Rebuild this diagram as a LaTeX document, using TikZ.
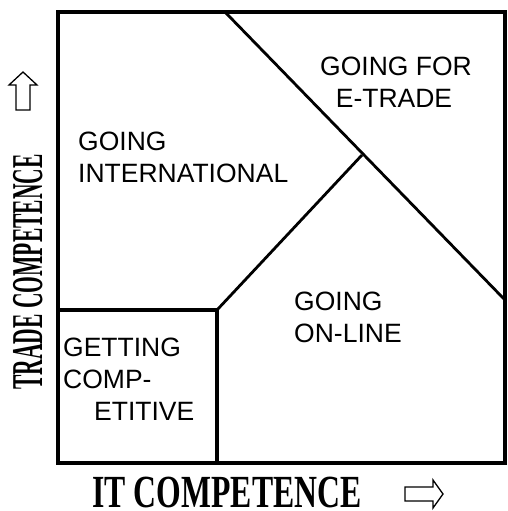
\documentclass[tikz,border=0pt]{standalone}
\usepackage{fontspec}
\setmainfont{Liberation Sans}
\newfontfamily\axisfont{Liberation Serif}
\usetikzlibrary{calc}
\begin{document}
\begin{tikzpicture}[x=1pt,y=-1pt,
  frame/.style={line width=3.6pt,line join=miter},
  divider/.style={line width=2.8pt},
  label/.style={inner sep=0pt,anchor=base west,font=\fontsize{26.5}{32}\selectfont},
  clabel/.style={label,anchor=base},
  hollow/.style={line width=1.3pt,line join=miter,fill=white}]
\useasboundingbox (0,0) rectangle (507,511);

% outer frame and corner points
\coordinate (tl) at (58,12);
\coordinate (tr) at (505,12);
\coordinate (br) at (505,463);
\coordinate (bl) at (58,463);
\coordinate (dtop) at (225,12);
\coordinate (dright) at (505,300);
\coordinate (joint) at (362,155);
\coordinate (corner) at (217,310);
\coordinate (cleft) at (58,310);
\coordinate (cbottom) at (217,463);

% region dividers
\draw[divider] (dtop) -- (dright);
\draw[divider] (corner) -- (joint);
\draw[frame] (cleft) -- (corner) -- (cbottom);
\draw[frame] (tl) -- (tr) -- (br) -- (bl) -- cycle;

% region labels
\node[label] (gi1) at (78,150) {GOING};
\node[label] (gi2) at (78,182) {INTERNATIONAL};
\node[clabel] (ge1) at (396,75) {GOING FOR};
\node[clabel] (ge2) at (394,107) {E-TRADE};
\node[label] (go1) at (294,310) {GOING};
\node[label] (go2) at (294,342) {ON-LINE};
\node[label] (gc1) at (63,356) {GETTING};
\node[label] (gc2) at (63,388) {COMP-};
\node[label] (gc3) at (94,420) {ETITIVE};

% axis titles
\node[inner sep=0pt,anchor=base] (xaxis) at (227,507)
  {\scalebox{0.69}[1]{\axisfont\bfseries\fontsize{46}{46}\selectfont IT COMPETENCE}};
\node[inner sep=0pt,anchor=base,rotate=90] (yaxis) at (42,272)
  {\scalebox{0.49}[1]{\axisfont\bfseries\fontsize{44}{44}\selectfont TRADE COMPETENCE}};

% direction arrows
\draw[hollow] (23,72) -- (37,85) -- (30,85) -- (30,110) -- (16,110) -- (16,85) -- (9,85) -- cycle;
\draw[hollow] (443,494) -- (433,480) -- (433,487) -- (405,487) -- (405,501) -- (433,501) -- (433,508) -- cycle;
\end{tikzpicture}
\end{document}
